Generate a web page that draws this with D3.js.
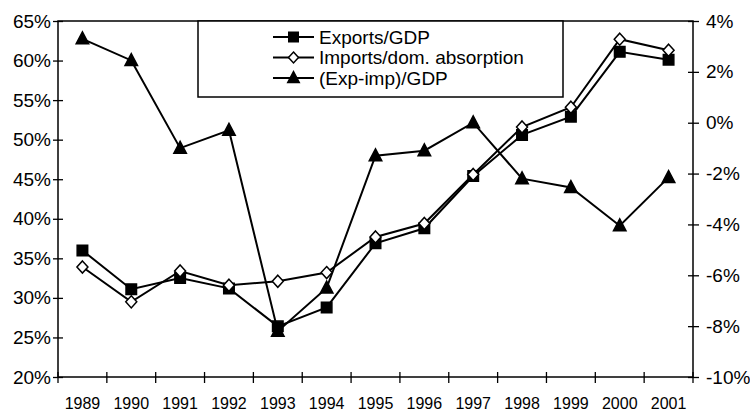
<!DOCTYPE html>
<html>
<head>
<meta charset="utf-8">
<script src="https://cdn.jsdelivr.net/npm/d3@7"></script>
<style>
  body { margin: 0; background: #fff; }
  svg text { font-family: "Liberation Sans", Arial, sans-serif; fill: #000; }
</style>
</head>
<body>
<svg id="chart" width="750" height="412"></svg>
<script>
// data
var years = ["1989","1990","1991","1992","1993","1994","1995","1996","1997","1998","1999","2000","2001"];
var exportsGdp = [36.0, 31.1, 32.5, 31.2, 26.4, 28.8, 36.9, 38.8, 45.4, 50.6, 52.9, 61.1, 60.1];
var importsAbs = [33.9, 29.5, 33.4, 31.6, 32.1, 33.2, 37.7, 39.4, 45.6, 51.6, 54.1, 62.7, 61.3];
var balanceGdp = [3.3, 2.45, -1.0, -0.3, -8.2, -6.5, -1.3, -1.1, 0.0, -2.2, -2.55, -4.05, -2.15];
var leftTicks = [20, 25, 30, 35, 40, 45, 50, 55, 60, 65];
var rightTicks = [-10, -8, -6, -4, -2, 0, 2, 4];
var legendLabels = ["Exports/GDP", "Imports/dom. absorption", "(Exp-imp)/GDP"];

(function() {
  var margin = {top: 21, right: 57, bottom: 35, left: 58},
      width = 750, height = 412,
      x0 = margin.left, x1 = width - margin.right,
      y0 = margin.top, y1 = height - margin.bottom;

  var svg = d3.select("#chart");

  var x = d3.scaleBand().domain(years).range([x0, x1]).padding(0);
  var yL = d3.scaleLinear().domain([20, 65]).range([y1, y0]);
  var yR = d3.scaleLinear().domain([-10, 4]).range([y1, y0]);

  // plot frame
  svg.append("rect")
      .attr("x", x0).attr("y", y0)
      .attr("width", x1 - x0).attr("height", y1 - y0)
      .attr("fill", "none").attr("stroke", "#000").attr("stroke-width", 1.5);

  // left axis
  var gL = svg.append("g").attr("transform", "translate(" + x0 + ",0)")
      .call(d3.axisLeft(yL).tickValues(leftTicks).tickSize(5).tickPadding(2)
          .tickFormat(function(d) { return d + "%"; }));
  gL.selectAll(".tick line").attr("x1", 5).attr("stroke-width", 1.3);
  gL.selectAll(".tick text").attr("font-size", 19);

  // right axis
  var gR = svg.append("g").attr("transform", "translate(" + x1 + ",0)")
      .call(d3.axisRight(yR).tickValues(rightTicks).tickSize(6).tickPadding(7)
          .tickFormat(function(d) { return d + "%"; }));
  gR.selectAll(".tick line").attr("x1", -5).attr("stroke-width", 1.3);
  gR.selectAll(".tick text").attr("font-size", 19);

  // bottom axis: labels at band centers, tick marks at band edges
  var gB = svg.append("g").attr("transform", "translate(0," + y1 + ")")
      .call(d3.axisBottom(x).tickSize(0).tickPadding(21));
  gB.selectAll(".tick text").attr("font-size", 16);
  svg.selectAll(".domain").attr("stroke", "none");

  var edges = years.map(function(d) { return x(d); }).concat([x.range()[1]]);
  svg.append("g").selectAll("line")
      .data(edges)
      .join("line")
      .attr("x1", function(d) { return d; })
      .attr("x2", function(d) { return d; })
      .attr("y1", y1 - 5).attr("y2", y1 + 6)
      .attr("stroke", "#000").attr("stroke-width", 1.3);

  var cx = function(i) { return x(years[i]) + x.bandwidth() / 2; };

  // marker shapes
  function square(s) { return "M" + (-s/2) + "," + (-s/2) + "h" + s + "v" + s + "h" + (-s) + "Z"; }
  function diamond(s) { return "M0," + (-s*0.55) + "L" + (s/2) + ",0L0," + (s*0.55) + "L" + (-s/2) + ",0Z"; }
  function triangle(s) { return "M0," + (-s*0.55) + "L" + (s/2) + "," + (s*0.4) + "L" + (-s/2) + "," + (s*0.4) + "Z"; }

  var series = [
    {values: balanceGdp, scale: yR, marker: triangle(12.5), fill: "#000"},
    {values: exportsGdp, scale: yL, marker: square(10.5), fill: "#000"},
    {values: importsAbs, scale: yL, marker: diamond(11), fill: "#fff"}
  ];

  series.forEach(function(s) {
    var line = d3.line()
        .x(function(d, i) { return cx(i); })
        .y(function(d) { return s.scale(d); });
    svg.append("path")
        .datum(s.values)
        .attr("d", line)
        .attr("fill", "none").attr("stroke", "#000").attr("stroke-width", 2);
    svg.append("g").selectAll("path")
        .data(s.values)
        .join("path")
        .attr("transform", function(d, i) { return "translate(" + cx(i) + "," + s.scale(d) + ")"; })
        .attr("d", s.marker)
        .attr("fill", s.fill).attr("stroke", "#000").attr("stroke-width", 1.5);
  });

  // legend
  var lg = svg.append("g");
  lg.append("rect")
      .attr("x", 198).attr("y", y0)
      .attr("width", 365).attr("height", 76)
      .attr("fill", "#fff").attr("stroke", "#000").attr("stroke-width", 1.5);

  var legendMarkers = [square(9.5), diamond(10), triangle(11.5)];
  var legendFills = ["#000", "#fff", "#000"];
  var rowY = d3.scalePoint().domain(legendLabels).range([37, 78]);

  legendLabels.forEach(function(label, i) {
    var yy = rowY(label);
    lg.append("line").attr("x1", 273).attr("x2", 314).attr("y1", yy).attr("y2", yy)
        .attr("stroke", "#000").attr("stroke-width", 2);
    lg.append("path").attr("transform", "translate(293.5," + yy + ")")
        .attr("d", legendMarkers[i])
        .attr("fill", legendFills[i]).attr("stroke", "#000").attr("stroke-width", 1.5);
    lg.append("text").attr("x", 319).attr("y", yy).attr("dy", "0.35em")
        .attr("font-size", 19)
        .text(label);
  });
})();
</script>
</body>
</html>
